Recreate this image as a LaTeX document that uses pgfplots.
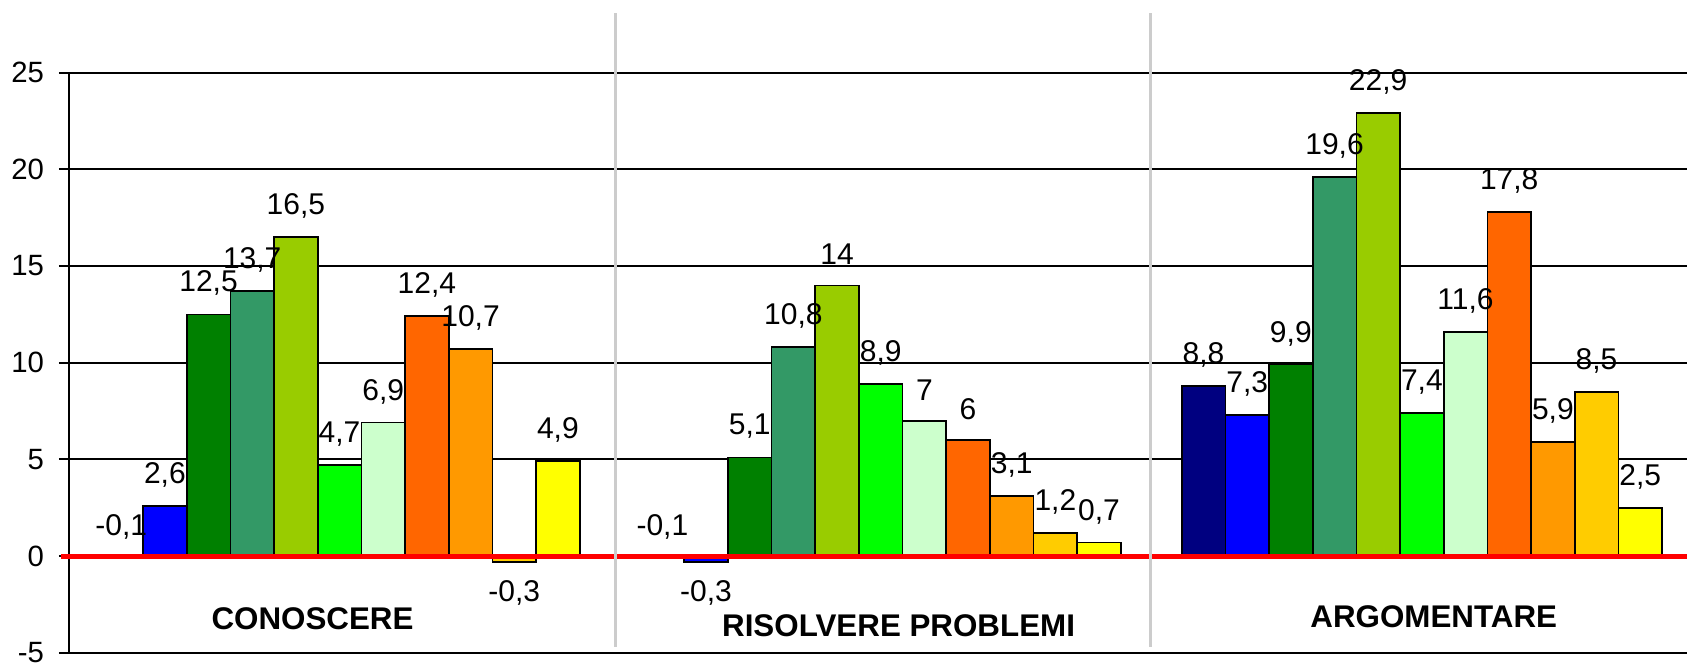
\documentclass[border=0pt]{standalone}
\usepackage{fontspec}
\setmainfont{Liberation Sans}
\usepackage{pgfplots}
\pgfplotsset{compat=1.18}
\definecolor{c1}{HTML}{000080}
\definecolor{c2}{HTML}{0000FF}
\definecolor{c3}{HTML}{008000}
\definecolor{c4}{HTML}{339966}
\definecolor{c5}{HTML}{99CC00}
\definecolor{c6}{HTML}{00FF00}
\definecolor{c7}{HTML}{CCFFCC}
\definecolor{c8}{HTML}{FF6600}
\definecolor{c9}{HTML}{FF9900}
\definecolor{c10}{HTML}{FFCC00}
\definecolor{c11}{HTML}{FFFF00}
\definecolor{sep}{HTML}{CCCCCC}
\begin{document}
\begin{tikzpicture}
\path[use as bounding box] (-20.7pt,-3.1pt) rectangle (485.4pt,195.8pt);
\begin{axis}[
  scale only axis, width=485.4pt, height=174pt,
  at={(0,0)}, anchor=south west,
  xmin=-0.5, xmax=2.49, ymin=-5, ymax=25,
  clip=false,
  axis lines=left, axis line style={-, line width=0.6pt, black},
  xtick=\empty,
  ytick={-5,0,...,25},
  ymajorgrids, grid style={black, line width=0.6pt},
  tick align=outside, major tick length=3pt,
  y tick style={black, line width=0.6pt},
  /pgf/number format/assume math mode=true,
  yticklabel style={font=\fontsize{8.8}{10}\selectfont, xshift=-1pt},
  ybar, bar width=0.0807,
  every axis plot/.append style={draw=black, line width=0.5pt},
  visualization depends on=rawy \as \yval,
  nodes near coords={\pgfmathprintnumber[fixed,use comma,precision=1]{\pgfplotspointmeta}},
  nodes near coords align=center,
  every node near coord/.append style={font=\fontsize{9}{10}\selectfont, text=black, inner sep=0pt,
     yshift={(\yval<-0.2 ? -9.3 : 9.3)*1pt}},
]
\addplot[fill=c1,  bar shift=-0.4035] coordinates {(0,-0.1) (1,-0.1) (2,8.8)};
\addplot[fill=c2,  bar shift=-0.3228] coordinates {(0,2.6) (1,-0.3) (2,7.3)};
\addplot[fill=c3,  bar shift=-0.2421] coordinates {(0,12.5) (1,5.1) (2,9.9)};
\addplot[fill=c4,  bar shift=-0.1614] coordinates {(0,13.7) (1,10.8) (2,19.6)};
\addplot[fill=c5,  bar shift=-0.0807] coordinates {(0,16.5) (1,14) (2,22.9)};
\addplot[fill=c6,  bar shift=0]       coordinates {(0,4.7) (1,8.9) (2,7.4)};
\addplot[fill=c7,  bar shift=0.0807]  coordinates {(0,6.9) (1,7) (2,11.6)};
\addplot[fill=c8,  bar shift=0.1614]  coordinates {(0,12.4) (1,6) (2,17.8)};
\addplot[fill=c9,  bar shift=0.2421]  coordinates {(0,10.7) (1,3.1) (2,5.9)};
\addplot[fill=c10, bar shift=0.3228]  coordinates {(0,-0.3) (1,1.2) (2,8.5)};
\addplot[fill=c11, bar shift=0.4035]  coordinates {(0,4.9) (1,0.7) (2,2.5)};
% zero reference line
\addplot[sharp plot, draw=red, line width=1.5pt, nodes near coords={}, forget plot]
  coordinates {(-0.515,-0.05) (2.49,-0.05)};
% group separators
\addplot[sharp plot, draw=sep, line width=0.9pt, nodes near coords={}, forget plot]
  coordinates {(0.51,-4.7) (0.51,28.08)};
\addplot[sharp plot, draw=sep, line width=0.9pt, nodes near coords={}, forget plot]
  coordinates {(1.498,-4.7) (1.498,28.08)};
\node[font=\fontsize{9.4}{11}\selectfont\bfseries] at (axis cs:-0.05,-3.22) {CONOSCERE};
\node[font=\fontsize{9.4}{11}\selectfont\bfseries] at (axis cs:1.033,-3.59) {RISOLVERE PROBLEMI};
\node[font=\fontsize{9.4}{11}\selectfont\bfseries] at (axis cs:2.022,-3.12) {ARGOMENTARE};
\end{axis}
\end{tikzpicture}
\end{document}
